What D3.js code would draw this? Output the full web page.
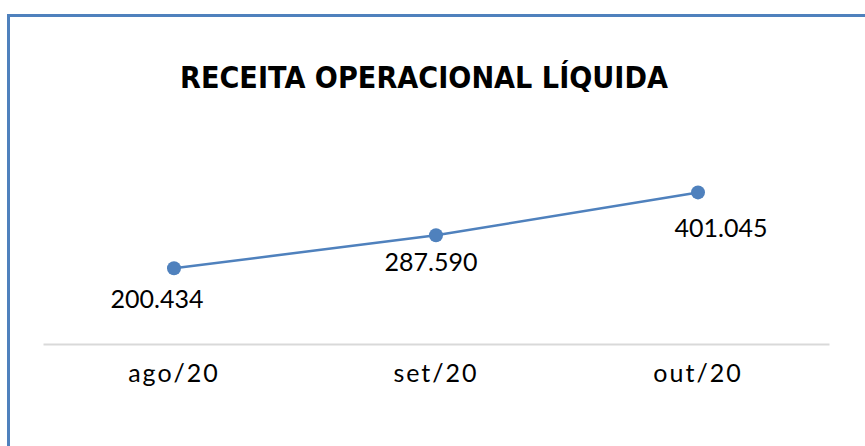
<!DOCTYPE html>
<html>
<head>
<meta charset="utf-8">
<script src="https://cdn.jsdelivr.net/npm/d3@7"></script>
<style>
  body { margin: 0; background: #fff; }
  svg { display: block; }
</style>
</head>
<body>
<div id="chart"></div>
<script>
var months = ["ago/20", "set/20", "out/20"];
var receita = [200434, 287590, 401045];
var rotulos = ["200.434", "287.590", "401.045"];
// label nudges, as in the original sheet (manual placement)
var labelDx = [-17, -5, 23];
var labelDy = [40, 36, 45];

var W = 865, H = 446;
var margin = {left: 43, right: 36, top: 155, bottom: 102};

var svg = d3.select("#chart").append("svg")
    .attr("width", W)
    .attr("height", H);

// chart frame (only top and left visible in the crop)
svg.append("rect")
    .attr("x", 8.5).attr("y", 15.5)
    .attr("width", 1000).attr("height", 1000)
    .attr("fill", "none")
    .attr("stroke", "#4f81bd")
    .attr("stroke-width", 3);

svg.append("text")
    .attr("x", 424).attr("y", 88)
    .attr("text-anchor", "middle")
    .attr("font-family", "'DejaVu Sans', sans-serif")
    .attr("font-weight", "bold")
    .attr("font-size", 30)
    .attr("textLength", 488)
    .attr("lengthAdjust", "spacingAndGlyphs")
    .text("RECEITA OPERACIONAL LÍQUIDA");

var x = d3.scaleBand()
    .domain(months)
    .range([margin.left, W - margin.right]);

var y = d3.scaleLinear()
    .domain([0, 500000])
    .range([H - margin.bottom, margin.top]);

var xAxis = svg.append("g")
    .attr("transform", "translate(0," + (H - margin.bottom) + ")")
    .call(d3.axisBottom(x).tickSize(0).tickPadding(20));

xAxis.select(".domain")
    .attr("stroke", "#d9d9d9")
    .attr("stroke-width", 2);
xAxis.selectAll(".tick text")
    .attr("font-family", "Lato, sans-serif")
    .attr("font-size", 25)
    .attr("letter-spacing", 2)
    .attr("fill", "#000")
    .attr("dy", "0.71em");

var cx = function(d, i) { return x(months[i]) + x.bandwidth() / 2; };

var line = d3.line()
    .x(function(d, i) { return cx(d, i); })
    .y(function(d) { return y(d); });

svg.append("path")
    .datum(receita)
    .attr("d", line)
    .attr("fill", "none")
    .attr("stroke", "#4f81bd")
    .attr("stroke-width", 2.5);

svg.selectAll("circle.pt")
    .data(receita)
    .enter().append("circle")
    .attr("class", "pt")
    .attr("cx", cx)
    .attr("cy", function(d) { return y(d); })
    .attr("r", 7)
    .attr("fill", "#4f81bd");

svg.selectAll("text.lbl")
    .data(receita)
    .enter().append("text")
    .attr("class", "lbl")
    .attr("x", function(d, i) { return cx(d, i) + labelDx[i]; })
    .attr("y", function(d, i) { return y(d) + labelDy[i]; })
    .attr("text-anchor", "middle")
    .attr("font-family", "Lato, sans-serif")
    .attr("font-size", 25)
    .text(function(d, i) { return rotulos[i]; });
</script>
</body>
</html>
